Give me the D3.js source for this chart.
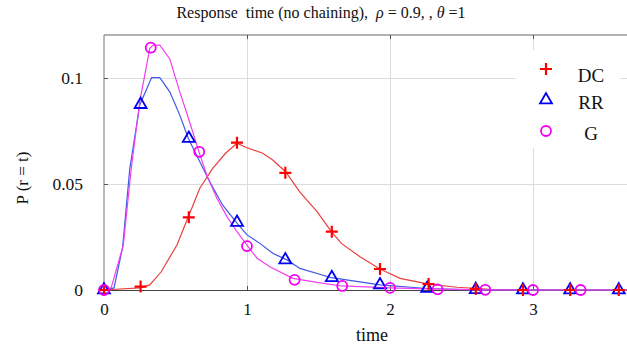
<!DOCTYPE html>
<html><head><meta charset="utf-8">
<script src="https://cdn.jsdelivr.net/npm/d3@7"></script>
<style>
body{margin:0;background:#fff}
svg{display:block}
svg text{font-family:"Liberation Serif","Times New Roman",serif}
</style>
</head><body>
<svg id="c" width="627" height="349"></svg>
<script>
// ---- data ----
const xTicks = [0, 1, 2, 3];
const yTicks = [0, 0.05, 0.1];
const seriesNames = ["DC", "RR", "G"];

// line vertices
const dcLineX = [0, 0.25, 0.32, 0.40, 0.51, 0.59, 0.67, 0.76, 0.85, 0.93, 1.0, 1.11, 1.18, 1.27, 1.37, 1.49, 1.59, 1.66, 1.79, 1.93, 2.07, 2.27, 2.47, 2.7, 3.0, 3.7];
const dcLineY = [0, 0.001, 0.0024, 0.0086, 0.0212, 0.0346, 0.048, 0.0574, 0.0645, 0.0692, 0.0671, 0.0645, 0.0613, 0.0558, 0.0462, 0.037, 0.0275, 0.022, 0.0157, 0.0099, 0.0055, 0.0028, 0.0013, 0.0003, 0, 0];
const rrLineX = [0, 0.07, 0.13, 0.18, 0.25, 0.333, 0.39, 0.46, 0.53, 0.59, 0.67, 0.74, 0.83, 0.93, 1.0, 1.09, 1.18, 1.28, 1.37, 1.59, 1.93, 2.26, 2.6, 3.7];
const rrLineY = [0, 0.001, 0.02, 0.057, 0.0873, 0.1002, 0.1002, 0.0935, 0.0825, 0.0715, 0.0605, 0.051, 0.040, 0.0315, 0.026, 0.022, 0.0173, 0.0142, 0.0102, 0.0058, 0.0024, 0.0007, 0.0001, 0];
const gLineX = [0, 0.05, 0.135, 0.19, 0.25, 0.32, 0.345, 0.39, 0.46, 0.53, 0.60, 0.66, 0.72, 0.79, 0.86, 0.93, 1.0, 1.07, 1.16, 1.32, 1.5, 1.66, 2.0, 2.33, 2.67, 3.0, 3.7];
const gLineY = [0, 0.001, 0.0212, 0.057, 0.0888, 0.114, 0.1155, 0.1155, 0.109, 0.0935, 0.079, 0.066, 0.054, 0.0432, 0.0346, 0.0275, 0.0212, 0.015, 0.011, 0.0055, 0.0035, 0.0019, 0.001, 0.0004, 0.0001, 0, 0];

// marker points
const dcMarkX = [0, 0.256, 0.593, 0.93, 1.268, 1.593, 1.93, 2.27, 2.6, 2.93, 3.26, 3.6];
const dcMarkY = [0, 0.0016, 0.0343, 0.0695, 0.0553, 0.0275, 0.0099, 0.0028, 0.0005, 0, 0, 0];
const rrMarkX = [0, 0.256, 0.593, 0.93, 1.268, 1.593, 1.93, 2.26, 2.6, 2.93, 3.26, 3.6];
const rrMarkY = [0, 0.0875, 0.0715, 0.0319, 0.0142, 0.0058, 0.0024, 0.0007, 0.0002, 0, 0, 0];
const gMarkX = [0, 0.327, 0.666, 1.0, 1.333, 1.666, 2.0, 2.333, 2.666, 3.0, 3.333];
const gMarkY = [0, 0.1143, 0.0652, 0.0207, 0.0048, 0.0019, 0.001, 0.0003, 0.0001, 0, 0];

// ---- drawing ----
const FONT = "'Liberation Serif', 'Times New Roman', serif";
const svg = d3.select("#c");
const L = 104, T = 35, B = 290, R = 676;
const x = d3.scaleLinear().domain([0, 4]).range([L, R]);
const y = d3.scaleLinear().domain([0, 0.1203]).range([B, T]);

// grid
const grid = svg.append("g");
grid.append("g").attr("transform", `translate(0,${B})`)
  .call(d3.axisBottom(x).tickValues(xTicks.slice(1)).tickSize(-(B - T)).tickFormat(""))
  .call(g => g.select(".domain").remove())
  .call(g => g.selectAll("line").attr("stroke", "#dcdcdc"));
grid.append("g").attr("transform", `translate(${L},0)`)
  .call(d3.axisLeft(y).tickValues(yTicks.slice(1)).tickSize(-(R - L)).tickFormat(""))
  .call(g => g.select(".domain").remove())
  .call(g => g.selectAll("line").attr("stroke", "#dcdcdc"));

// frame
svg.append("line").attr("x1", L).attr("x2", R).attr("y1", T).attr("y2", T).attr("stroke", "#666");
svg.append("line").attr("x1", L).attr("x2", L).attr("y1", T).attr("y2", B).attr("stroke", "#777");

// axes
const xAx = svg.append("g").attr("transform", `translate(0,${B})`)
  .call(d3.axisBottom(x).tickValues(xTicks).tickSize(-4).tickPadding(10).tickFormat(d3.format("d")));
xAx.attr("font-family", FONT);
xAx.select(".domain").attr("stroke", "#444");
xAx.selectAll("line").attr("stroke", "#555");
xAx.selectAll("text").attr("font-size", 17).attr("fill", "#111").attr("dy", "0.9em");

const xTop = svg.append("g").attr("transform", `translate(0,${T})`)
  .call(d3.axisTop(x).tickValues(xTicks.slice(1)).tickSize(-4).tickFormat(""));
xTop.select(".domain").remove();
xTop.selectAll("line").attr("stroke", "#555");

const yAx = svg.append("g").attr("transform", `translate(${L},0)`)
  .call(d3.axisLeft(y).tickValues(yTicks).tickSize(-4).tickPadding(21).tickFormat(d => d === 0 ? "0" : String(d)));
yAx.attr("font-family", FONT);
yAx.select(".domain").remove();
yAx.selectAll("line").attr("stroke", "#555");
yAx.selectAll("text").attr("font-size", 17.5).attr("fill", "#111");

// lines
const line = d3.line().x(d => x(d[0])).y(d => y(d[1]));
function drawLine(xs, ys, color) {
  svg.append("path").datum(xs.map((v, i) => [v, ys[i]]))
    .attr("d", line).attr("fill", "none").attr("stroke", color).attr("stroke-width", 1.2);
}
drawLine(dcLineX, dcLineY, "#e8403f");
drawLine(rrLineX, rrLineY, "#4058e8");
drawLine(gLineX, gLineY, "#f040f0");

const plusPath = "M-6,0H6M0,-6V6";
const triPath = d3.symbol().type(d3.symbolTriangle).size(62)();
function markers(xs, ys, kind) {
  const g = svg.append("g");
  const pts = xs.map((v, i) => [v, ys[i]]);
  if (kind === "DC") {
    g.selectAll("path").data(pts).join("path").attr("d", plusPath)
      .attr("transform", d => `translate(${x(d[0])},${y(d[1])})`)
      .attr("stroke", "#ff0000").attr("stroke-width", 2.2).attr("fill", "none");
  } else if (kind === "RR") {
    g.selectAll("path").data(pts).join("path").attr("d", triPath)
      .attr("transform", d => `translate(${x(d[0])},${y(d[1])})`)
      .attr("stroke", "#0000f0").attr("stroke-width", 1.8).attr("fill", "none");
  } else {
    g.selectAll("circle").data(pts).join("circle")
      .attr("cx", d => x(d[0])).attr("cy", d => y(d[1])).attr("r", 5)
      .attr("stroke", "#f000f0").attr("stroke-width", 1.8).attr("fill", "none");
  }
}
markers(rrMarkX, rrMarkY, "RR");
markers(dcMarkX, dcMarkY, "DC");
markers(gMarkX, gMarkY, "G");

// legend
const lg = svg.append("g");
lg.append("rect").attr("x", 516).attr("y", 50).attr("width", 104).attr("height", 98).attr("fill", "#fff");
const legY = [69, 100, 131];
const legTextY = [82, 109, 140];
seriesNames.forEach((n, i) => {
  if (n === "DC") lg.append("path").attr("d", plusPath).attr("transform", `translate(546,${legY[i]})`)
    .attr("stroke", "#ff0000").attr("stroke-width", 2.2).attr("fill", "none");
  if (n === "RR") lg.append("path").attr("d", triPath).attr("transform", `translate(546,${legY[i]})`)
    .attr("stroke", "#0000f0").attr("stroke-width", 1.8).attr("fill", "none");
  if (n === "G") lg.append("circle").attr("cx", 546).attr("cy", legY[i]).attr("r", 5)
    .attr("stroke", "#f000f0").attr("stroke-width", 1.8).attr("fill", "none");
  lg.append("text").attr("x", 591).attr("y", legTextY[i]).attr("text-anchor", "middle")
    .attr("font-family", FONT).attr("font-size", 19).attr("fill", "#111").text(n);
});

// titles
const title = svg.append("text").attr("x", 321).attr("y", 18).attr("text-anchor", "middle")
  .attr("font-family", FONT).attr("font-size", 16).attr("fill", "#111").style("white-space", "pre");
title.append("tspan").text("Response  time (no chaining),  ");
title.append("tspan").attr("font-style", "italic").text("ρ");
title.append("tspan").text(" = 0.9, , ");
title.append("tspan").attr("font-style", "italic").text("θ");
title.append("tspan").text(" =1");

svg.append("text").attr("x", 372).attr("y", 341).attr("text-anchor", "middle")
  .attr("font-family", FONT).attr("font-size", 18).attr("fill", "#111").text("time");
svg.append("text").attr("transform", "translate(28,178) rotate(-90)").attr("text-anchor", "middle")
  .attr("font-family", FONT).attr("font-size", 17).attr("fill", "#111").text("P (r = t)");
</script>
</body></html>
